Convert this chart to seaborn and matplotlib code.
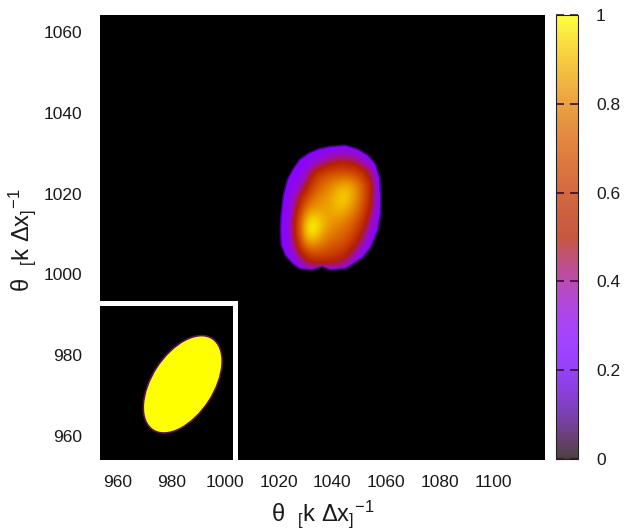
import numpy as np
import matplotlib
matplotlib.use("Agg")
import matplotlib.pyplot as plt
import seaborn as sns
from matplotlib.patches import Ellipse, Polygon
from matplotlib.colors import ListedColormap, Normalize
from matplotlib.cm import ScalarMappable

# ---------------- data ----------------
grid_x = [1018, 1021, 1024, 1027, 1030, 1033, 1036, 1039, 1042, 1045, 1048, 1051, 1054, 1057, 1060]
grid_y = [1034, 1031, 1028, 1025, 1022, 1019, 1016, 1013, 1010, 1007, 1004, 1001, 998]
intensity = [
    [0.28, 0.28, 0.28, 0.28, 0.28, 0.28, 0.28, 0.28, 0.28, 0.28, 0.28, 0.28, 0.28, 0.28, 0.28],
    [0.28, 0.28, 0.28, 0.28, 0.28, 0.28, 0.28, 0.28, 0.28, 0.28, 0.28, 0.28, 0.28, 0.28, 0.28],
    [0.28, 0.28, 0.28, 0.28, 0.28, 0.30, 0.34, 0.42, 0.48, 0.48, 0.45, 0.35, 0.28, 0.28, 0.28],
    [0.28, 0.28, 0.28, 0.28, 0.32, 0.52, 0.65, 0.68, 0.70, 0.70, 0.68, 0.62, 0.45, 0.28, 0.28],
    [0.28, 0.28, 0.28, 0.30, 0.45, 0.66, 0.74, 0.80, 0.86, 0.90, 0.86, 0.74, 0.58, 0.28, 0.28],
    [0.28, 0.28, 0.28, 0.42, 0.64, 0.76, 0.82, 0.86, 0.92, 0.94, 0.86, 0.74, 0.56, 0.28, 0.28],
    [0.28, 0.28, 0.28, 0.52, 0.78, 0.86, 0.85, 0.86, 0.90, 0.88, 0.80, 0.70, 0.50, 0.28, 0.28],
    [0.28, 0.28, 0.30, 0.62, 0.92, 1.00, 0.92, 0.85, 0.82, 0.78, 0.72, 0.60, 0.40, 0.28, 0.28],
    [0.28, 0.28, 0.30, 0.60, 0.92, 0.98, 0.88, 0.80, 0.76, 0.72, 0.65, 0.50, 0.30, 0.28, 0.28],
    [0.28, 0.28, 0.28, 0.50, 0.76, 0.80, 0.75, 0.70, 0.68, 0.64, 0.52, 0.35, 0.28, 0.28, 0.28],
    [0.28, 0.28, 0.28, 0.32, 0.50, 0.60, 0.62, 0.60, 0.56, 0.48, 0.32, 0.28, 0.28, 0.28, 0.28],
    [0.28, 0.28, 0.28, 0.28, 0.28, 0.28, 0.28, 0.28, 0.28, 0.28, 0.28, 0.28, 0.28, 0.28, 0.28],
    [0.28, 0.28, 0.28, 0.28, 0.28, 0.28, 0.28, 0.28, 0.28, 0.28, 0.28, 0.28, 0.28, 0.28, 0.28],
]
# outline of the non-zero region
outline_x = [1039.2, 1044.8, 1049.6, 1053.3, 1056.0, 1057.4, 1057.8, 1057.8, 1056.7, 1054.1,
             1051.1, 1047.7, 1044.8, 1039.2, 1036.2, 1032.4, 1028.0, 1025.4, 1022.7, 1021.2,
             1020.9, 1021.2, 1022.0, 1023.5, 1025.4, 1028.0, 1031.7, 1035.4]
outline_y = [1031.5, 1031.8, 1030.8, 1029.3, 1027.1, 1023.9, 1019.6, 1015.2, 1011.0, 1006.8,
             1004.3, 1002.8, 1001.6, 1001.3, 1002.1, 1001.3, 1001.6, 1002.8, 1004.8, 1007.3,
             1011.0, 1015.2, 1019.6, 1023.4, 1025.8, 1028.3, 1030.0, 1031.0]

x_ticks = [960, 980, 1000, 1020, 1040, 1060, 1080, 1100]
y_ticks = [960, 980, 1000, 1020, 1040, 1060]
x_range = (953.3, 1119.4)
y_range = (954.1, 1064.2)
cbar_ticks = [0, 0.2, 0.4, 0.6, 0.8, 1]
cbar_labels = ["0", "0.2", "0.4", "0.6", "0.8", "1"]
axis_label = r"θ  $_{[}$k Δx$_{]}$$^{-1}$"

# inset: initial ellipse (inset pixel units)
ellipse_center = (82.7, 75.7)
ellipse_major = 109
ellipse_minor = 62
ellipse_angle = 57
ellipse_value = 1.0

# ---------------- style ----------------
sns.set_theme(style="white")
plt.rcParams['font.family'] = ['Liberation Sans', 'DejaVu Sans']
plt.rcParams['mathtext.fontset'] = 'custom'
plt.rcParams['mathtext.rm'] = 'Liberation Sans'
plt.rcParams['mathtext.it'] = 'Liberation Sans'

W, H = 625, 531
fig = plt.figure(figsize=(W / 100, H / 100), dpi=100)
fig.patch.set_facecolor('white')


def rect(l, t, r, b):
    return [l / W, 1 - b / H, (r - l) / W, (b - t) / H]


cmap = plt.get_cmap('gnuplot')

ax = fig.add_axes(rect(100, 15, 545, 460))
ax.set_facecolor('black')
outline = np.column_stack([outline_x, outline_y])
# soft fringe around the region
ax.add_patch(Polygon(outline, closed=True, facecolor='none', edgecolor=cmap(0.22),
                     linewidth=2.2, alpha=0.55, joinstyle='round', zorder=1))
dx = grid_x[1] - grid_x[0]
dy = grid_y[0] - grid_y[1]
im = ax.imshow(np.array(intensity, dtype=float), cmap=cmap, vmin=0, vmax=1,
               interpolation='bicubic', aspect='auto', origin='upper', zorder=2,
               extent=[grid_x[0] - dx / 2, grid_x[-1] + dx / 2,
                       grid_y[-1] - dy / 2, grid_y[0] + dy / 2])
clip = Polygon(outline, closed=True, transform=ax.transData,
               facecolor='none', edgecolor='none')
im.set_clip_path(clip)
ax.set_xlim(*x_range)
ax.set_ylim(*y_range)
ax.set_xticks(x_ticks)
ax.set_yticks(y_ticks)
ax.tick_params(axis='both', length=0, labelsize=12.5, colors='#1a1a1a')
ax.tick_params(axis='x', pad=11)
ax.tick_params(axis='y', pad=13)
for s in ax.spines.values():
    s.set_visible(False)
ax.set_xlabel(axis_label, fontsize=17, color='#1a1a1a')
ax.set_ylabel(axis_label, fontsize=17, color='#1a1a1a')
ax.xaxis.set_label_coords(0.5, -0.087)
ax.yaxis.set_label_coords(-0.139, 0.494)

# inset
iax = fig.add_axes(rect(100, 302.5, 234.5, 460))
iax.set_facecolor('black')
iax.set_xlim(0, 134.5)
iax.set_ylim(0, 157.5)
iax.set_xticks([])
iax.set_yticks([])
for k, s in iax.spines.items():
    if k in ('top', 'right'):
        s.set_color('white')
        s.set_linewidth(3.6)
    else:
        s.set_visible(False)
iax.add_patch(Ellipse(ellipse_center, ellipse_major, ellipse_minor, angle=ellipse_angle,
                      facecolor=cmap(ellipse_value), edgecolor='#5a1060', linewidth=1.2))

# colorbar (washed colours as in the reference)
cols = cmap(np.linspace(0, 1, 256))
cols[:, :3] = 0.75 * cols[:, :3] + 0.25
cb_cmap = ListedColormap(cols)
cax = fig.add_axes(rect(556, 15, 578, 459))
sm = ScalarMappable(norm=Normalize(0, 1), cmap=cb_cmap)
cb = fig.colorbar(sm, cax=cax, ticks=cbar_ticks)
cb.ax.set_yticklabels(cbar_labels)
cb.outline.set_linewidth(0.8)
cb.outline.set_edgecolor('#222222')
cax.set_axisbelow(False)
cax.tick_params(direction='in', left=True, right=True, length=6, width=1.2,
                color='#331133', labelsize=12.5, pad=13, labelcolor='#1a1a1a')

fig.savefig('out.png', dpi=100)
